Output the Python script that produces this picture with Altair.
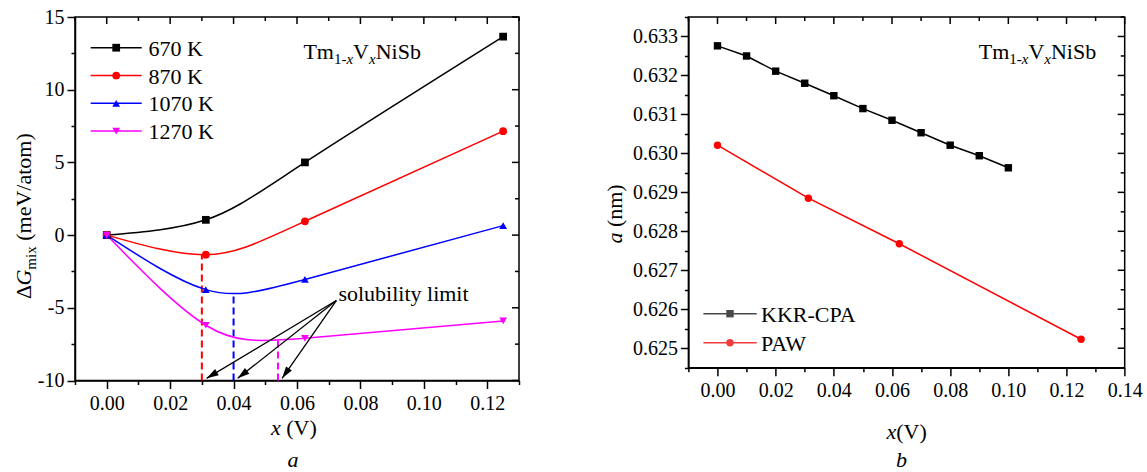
import math
import altair as alt
import pandas as pd

FONT = "Liberation Serif"

# ---------------- panel a : mixing free energy ----------------
x_a = [0.0, 0.03125, 0.0625, 0.125]
temps = ["670 K", "870 K", "1070 K", "1270 K"]
g_670 = [0.0, 1.05, 5.0, 13.65]
g_870 = [0.0, -1.35, 0.95, 7.15]
g_1070 = [0.0, -3.75, -3.05, 0.65]
g_1270 = [0.0, -6.2, -7.1, -5.9]
colors_a = ["#000000", "#ff0000", "#0000ff", "#ff00ff"]
shapes_a = ["square", "circle", "triangle-up", "triangle-down"]

sol_x = [0.030, 0.040, 0.054]
sol_g = [-1.35, -3.95, -7.1]
sol_colors = ["#ff0000", "#0000ff", "#ff00ff"]
tip_x = [0.0315, 0.0413, 0.0553]
tip_g = [-9.85, -9.85, -9.85]
label_pt = [0.0724, -4.5]

xticks_a = [-0.01, 0.0, 0.01, 0.02, 0.03, 0.04, 0.05, 0.06, 0.07, 0.08, 0.09, 0.10, 0.11, 0.12, 0.13]
yticks_a = [-10, -7.5, -5, -2.5, 0, 2.5, 5, 7.5, 10, 12.5, 15]

# ---------------- panel b : lattice parameter ----------------
methods = ["KKR-CPA", "PAW"]
x_kkr = [0.00, 0.01, 0.02, 0.03, 0.04, 0.05, 0.06, 0.07, 0.08, 0.09, 0.10]
a_kkr = [0.63276, 0.63250, 0.63211, 0.63180, 0.63148, 0.63115, 0.63085, 0.63053, 0.63021, 0.62994, 0.62963]
x_paw = [0.0, 0.03125, 0.0625, 0.125]
a_paw = [0.63021, 0.62885, 0.62768, 0.62523]
colors_b = ["#484848", "#ef3b3b"]
shapes_b = ["square", "circle"]

xticks_b = [-0.01, 0.0, 0.01, 0.02, 0.03, 0.04, 0.05, 0.06, 0.07, 0.08, 0.09, 0.10, 0.11, 0.12, 0.13, 0.14]
yticks_b = [0.6245, 0.625, 0.6255, 0.626, 0.6265, 0.627, 0.6275, 0.628, 0.6285, 0.629, 0.6295,
            0.630, 0.6305, 0.631, 0.6315, 0.632, 0.6325, 0.633, 0.6335]

# ---------------- geometry / style ----------------
WA, HA = 444, 363.5
WB, HB = 436.3, 350.7
XDOM_A, YDOM_A = [-0.01, 0.13], [-10, 15]
XDOM_B, YDOM_B = [-0.01, 0.14], [0.6245, 0.6335]

NORMAL_W = {' ': 250, '(': 333, ')': 333, 'm': 778, 'e': 444, 'V': 722, '/': 278, 'a': 444,
            't': 278, 'o': 500, 'T': 611, '1': 500, '-': 333, 'N': 722, 'i': 278, 'S': 556,
            'b': 500, 'n': 500, 'Δ': 612, 'x': 500}
ITALIC_W = {'x': 444, 'G': 722, 'a': 500, 'b': 500}


def text_width(s, size, style):
    table = ITALIC_W if style == "italic" else NORMAL_W
    return sum(table.get(c, NORMAL_W.get(c, 500)) for c in s) * size / 1000.0


def text_run(pieces, x0, y0, angle=0):
    layers = []
    pos = 0.0
    for s, size, style, shift in pieces:
        lead = len(s) - len(s.lstrip(" "))
        pos += lead * 250 * size / 1000.0
        s2 = s.lstrip(" ")
        if angle == 0:
            x, y = x0 + pos, y0 + shift
        else:
            x, y = x0 + shift, y0 - pos
        mk = dict(align="left", baseline="alphabetic", font=FONT, fontSize=size,
                  fontStyle=style, color="black")
        if angle:
            mk["angle"] = angle
        layers.append(
            alt.Chart(pd.DataFrame({"t": [s2]})).mark_text(**mk).encode(
                text="t:N", x=alt.value(x), y=alt.value(y))
        )
        pos += text_width(s2, size, style)
    return layers


def single_text(s, x, y, size=22, style="normal", align="center"):
    return alt.Chart(pd.DataFrame({"t": [s]})).mark_text(
        align=align, baseline="alphabetic", font=FONT, fontSize=size, fontStyle=style, color="black"
    ).encode(text="t:N", x=alt.value(x), y=alt.value(y))


def anchor(x, y):
    return alt.Chart(pd.DataFrame({"a": [0]})).mark_rule(opacity=0, strokeWidth=0.5).encode(
        x=alt.value(x), x2=alt.value(x), y=alt.value(y), y2=alt.value(y + 1))


def inward_ticks(xvals, yvals, W, H, XENC, YENC, xmajor, ymajor):
    layers = []
    dfx = pd.DataFrame({"x": xvals})
    dfx["major"] = [xmajor(v) for v in xvals]
    dfy = pd.DataFrame({"y": yvals})
    dfy["major"] = [ymajor(v) for v in yvals]
    for is_major, L in [(True, 7), (False, 4)]:
        layers.append(alt.Chart(dfx[dfx.major == is_major]).mark_rule(color="black", strokeWidth=1.5).encode(
            x=XENC, y=alt.value(0), y2=alt.value(L)))
        layers.append(alt.Chart(dfy[dfy.major == is_major]).mark_rule(color="black", strokeWidth=1.5).encode(
            y=YENC, x=alt.value(W - L), x2=alt.value(W)))
    return layers


def xmajor(v):
    return abs(v * 50 - round(v * 50)) < 1e-6


# ---------------- panel a chart ----------------
xs_a = alt.Scale(domain=XDOM_A, nice=False, zero=False)
ys_a = alt.Scale(domain=YDOM_A, nice=False, zero=False)
XMAJ = "abs(datum.value*50 - round(datum.value*50)) < 0.001"
YMAJ_A = "abs(datum.value % 5) < 0.001"
ax_xa = alt.Axis(values=xticks_a, title=None, labelExpr=f"{XMAJ} ? format(datum.value, '.2f') : ''",
                 tickSize={"condition": {"test": XMAJ, "value": 8}, "value": 4}, labelPadding=5)
ax_ya = alt.Axis(values=yticks_a, title=None,
                 labelExpr=f"{YMAJ_A} ? (datum.value < 0 ? '-' + abs(datum.value) : '' + datum.value) : ''",
                 tickSize={"condition": {"test": YMAJ_A, "value": 8}, "value": 4}, labelPadding=3)

rows = []
for t, vals in zip(temps, [g_670, g_870, g_1070, g_1270]):
    for xv, gv in zip(x_a, vals):
        rows.append({"x": xv, "y": gv, "T": t})
df_a = pd.DataFrame(rows)

col_a = alt.Color("T:N", scale=alt.Scale(domain=temps, range=colors_a), legend=None)
shp_a = alt.Shape("T:N", scale=alt.Scale(domain=temps, range=shapes_a), legend=None)
X_A = alt.X("x:Q", scale=xs_a, axis=ax_xa)
Y_A = alt.Y("y:Q", scale=ys_a, axis=ax_ya)

lines_a = alt.Chart(df_a).mark_line(interpolate="natural", strokeWidth=1.5).encode(
    x=X_A, y=Y_A, color=col_a, detail="T:N")
points_a = alt.Chart(df_a).mark_point(filled=True, opacity=1, size=60).encode(
    x=X_A, y=Y_A, color=col_a, shape=shp_a)

df_sol = pd.DataFrame({"x": sol_x, "y": sol_g, "c": sol_colors})
dashes = alt.Chart(df_sol).transform_calculate(ybot="-10").mark_rule(
    strokeDash=[7, 4], strokeWidth=2).encode(
    x=X_A, y=alt.Y("ybot:Q", scale=ys_a, axis=ax_ya), y2="y:Q", color=alt.Color("c:N", scale=None))

# arrows
ppx = WA / (XDOM_A[1] - XDOM_A[0])
ppy = HA / (YDOM_A[1] - YDOM_A[0])
angs = []
for tx, ty in zip(tip_x, tip_g):
    dx = (tx - label_pt[0]) * ppx
    dy = -(ty - label_pt[1]) * ppy
    angs.append(math.degrees(math.atan2(dx, -dy)) % 360)
df_arr = pd.DataFrame({"x": [label_pt[0]] * 3, "y": [label_pt[1]] * 3, "x2": tip_x, "y2": tip_g,
                       "tx": tip_x, "ty": tip_g, "ang": angs})
arrow_lines = alt.Chart(df_arr).mark_rule(color="black", strokeWidth=1.3).encode(
    x=X_A, y=Y_A, x2="x2:Q", y2="y2:Q")
arrow_heads = alt.Chart(df_arr).mark_point(
    shape="M0,0L0.65,2.2L-0.65,2.2Z", filled=True, opacity=1, size=120, color="black").encode(
    x=alt.X("tx:Q", scale=xs_a, axis=ax_xa), y=alt.Y("ty:Q", scale=ys_a, axis=ax_ya),
    angle=alt.Angle("ang:Q", scale=None))

# legend a
leg_a = []
leg_y0, leg_dy = 30.7, 27.8
for i, t in enumerate(temps):
    yy = leg_y0 + i * leg_dy
    dfl = pd.DataFrame({"t": [t]})
    leg_a.append(alt.Chart(dfl).mark_rule(color=colors_a[i], strokeWidth=1.5).encode(
        x=alt.value(15.7), x2=alt.value(66.7), y=alt.value(yy)))
    leg_a.append(alt.Chart(dfl).mark_point(filled=True, opacity=1, size=60, color=colors_a[i],
                                            shape=shapes_a[i]).encode(x=alt.value(41.2), y=alt.value(yy)))
    leg_a.append(alt.Chart(dfl).mark_text(align="left", baseline="middle", font=FONT, fontSize=22,
                                           color="black").encode(text="t:N", x=alt.value(73.4), y=alt.value(yy + 1)))

formula = [("Tm", 22, "normal", 0), ("1-", 15, "normal", 5), ("x", 15, "italic", 5),
           ("V", 22, "normal", 0), ("x", 15, "italic", 5), ("NiSb", 22, "normal", 0)]

texts_a = []
texts_a += text_run(formula, 228.4, 41.7)
texts_a.append(single_text("solubility limit", 263.4, 283.5, size=22, align="left"))
texts_a += text_run([("x", 22, "italic", 0), (" (V)", 22, "normal", 0)], 196, 418)
texts_a.append(single_text("a", 218, 450, style="italic"))
texts_a += text_run([("Δ", 22, "normal", 0), ("G", 22, "italic", 0), ("mix", 15, "normal", 5),
                     (" (meV/atom)", 22, "normal", 0)], -44, 282, angle=270)

ticks_a = inward_ticks(xticks_a, yticks_a, WA, HA, X_A, Y_A, xmajor, lambda v: abs(v % 5) < 1e-6)

panel_a = alt.layer(
    anchor(-73.3, -16), dashes, lines_a, points_a, arrow_lines, arrow_heads, *ticks_a, *leg_a, *texts_a
).properties(width=WA, height=HA)

# ---------------- panel b chart ----------------
xs_b = alt.Scale(domain=XDOM_B, nice=False, zero=False)
ys_b = alt.Scale(domain=YDOM_B, nice=False, zero=False)
YMAJ_B = "abs(datum.value*1000 - round(datum.value*1000)) < 0.01"
ax_xb = alt.Axis(values=xticks_b, title=None, labelExpr=f"{XMAJ} ? format(datum.value, '.2f') : ''",
                 tickSize={"condition": {"test": XMAJ, "value": 8}, "value": 4}, labelPadding=5)
ax_yb = alt.Axis(values=yticks_b, title=None, labelExpr=f"{YMAJ_B} ? format(datum.value, '.3f') : ''",
                 tickSize={"condition": {"test": YMAJ_B, "value": 8}, "value": 4}, labelPadding=3)

df_b = pd.DataFrame(
    [{"x": xv, "y": av, "m": methods[0]} for xv, av in zip(x_kkr, a_kkr)]
    + [{"x": xv, "y": av, "m": methods[1]} for xv, av in zip(x_paw, a_paw)])
col_b = alt.Color("m:N", scale=alt.Scale(domain=methods, range=colors_b), legend=None)
shp_b = alt.Shape("m:N", scale=alt.Scale(domain=methods, range=shapes_b), legend=None)
X_B = alt.X("x:Q", scale=xs_b, axis=ax_xb)
Y_B = alt.Y("y:Q", scale=ys_b, axis=ax_yb)

lines_b = alt.Chart(df_b).mark_line(strokeWidth=1.5).encode(x=X_B, y=Y_B, color=col_b, detail="m:N")
points_b = alt.Chart(df_b).mark_point(filled=True, opacity=1, size=55).encode(
    x=X_B, y=Y_B, color=col_b, shape=shp_b)

leg_b = []
for i, m in enumerate(methods):
    yy = 296.7 + i * 29
    dfl = pd.DataFrame({"t": [m]})
    leg_b.append(alt.Chart(dfl).mark_rule(color=colors_b[i], strokeWidth=1.5).encode(
        x=alt.value(15), x2=alt.value(68.3), y=alt.value(yy)))
    leg_b.append(alt.Chart(dfl).mark_point(filled=True, opacity=1, size=55, color=colors_b[i],
                                            shape=shapes_b[i]).encode(x=alt.value(41.6), y=alt.value(yy)))
    leg_b.append(alt.Chart(dfl).mark_text(align="left", baseline="middle", font=FONT, fontSize=22,
                                           color="black").encode(text="t:N", x=alt.value(72.6), y=alt.value(yy + 1)))

texts_b = []
texts_b += text_run(formula, 290.3, 41.7)
texts_b += text_run([("x", 22, "italic", 0), ("(V)", 22, "normal", 0)], 198, 422)
texts_b.append(single_text("b", 213, 450, style="italic"))
texts_b += text_run([("a", 22, "italic", 0), (" (nm)", 22, "normal", 0)], -66, 226.6, angle=270)

ticks_b = inward_ticks(xticks_b, yticks_b, WB, HB, X_B, Y_B, xmajor,
                       lambda v: abs(v * 1000 - round(v * 1000)) < 1e-6)

panel_b = alt.layer(lines_b, points_b, *ticks_b, *leg_b, *texts_b).properties(width=WB, height=HB)

chart = alt.hconcat(panel_a, panel_b, spacing=169.4, bounds="flush").properties(
    padding=0, background="white"
).configure_view(stroke="black", strokeWidth=1.5).configure_axis(
    labelFont=FONT, labelFontSize=20, labelColor="black", domainColor="black", domainWidth=1.5,
    tickColor="black", tickWidth=1.5, grid=False, labelOverlap=False, labelFlush=False, labelBound=False
)

chart.save("out.html", embed_options={"renderer": "svg", "actions": False})
